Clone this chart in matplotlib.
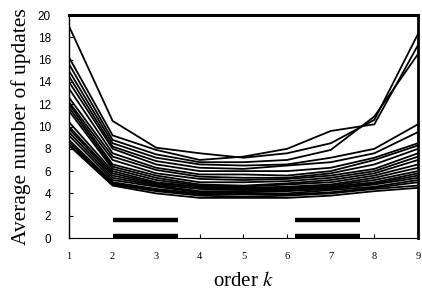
import numpy as np
from matplotlib import pyplot as plt

plt.rcParams['mathtext.fontset'] = 'stix'

# order k and average number of updates (one row per run)
orders = [1, 2, 3, 4, 5, 6, 7, 8, 9]
xtick_labels = ['1', '2', '3', '4', '5', '6', '7', '8', '9']
yticks = [0, 2, 4, 6, 8, 10, 12, 14, 16, 18, 20]

runs = [
    [19.0, 10.5, 8.1, 7.6, 7.2, 7.6, 8.5, 10.6, 18.3],
    [16.2, 9.2, 7.9, 7.0, 7.3, 8.0, 9.6, 10.2, 17.3],
    [15.6, 8.8, 7.5, 6.8, 6.8, 7.0, 7.9, 10.9, 16.5],
    [15.0, 8.5, 7.2, 6.6, 6.5, 6.6, 7.2, 8.0, 10.2],
    [14.5, 8.2, 6.9, 6.3, 6.2, 6.5, 6.8, 7.6, 9.5],
    [14.0, 8.0, 6.6, 6.0, 6.0, 6.0, 6.3, 7.2, 8.5],
    [13.4, 7.6, 6.3, 5.7, 5.7, 5.6, 6.0, 7.0, 8.3],
    [12.6, 7.3, 6.1, 5.5, 5.4, 5.4, 5.8, 6.6, 8.0],
    [12.2, 7.0, 5.8, 5.3, 5.2, 5.3, 5.6, 6.2, 7.6],
    [12.0, 6.6, 5.6, 5.0, 5.0, 5.1, 5.4, 6.0, 7.3],
    [11.7, 6.4, 5.4, 4.8, 4.7, 4.9, 5.2, 5.8, 7.0],
    [11.4, 6.2, 5.2, 4.7, 4.6, 4.8, 5.0, 5.6, 6.6],
    [10.4, 6.0, 5.0, 4.6, 4.5, 4.6, 4.8, 5.4, 6.3],
    [10.0, 5.8, 4.9, 4.5, 4.4, 4.5, 4.7, 5.2, 6.0],
    [9.8, 5.6, 4.8, 4.4, 4.3, 4.4, 4.6, 5.0, 5.8],
    [9.5, 5.4, 4.7, 4.2, 4.2, 4.3, 4.5, 4.9, 5.6],
    [9.2, 5.2, 4.6, 4.1, 4.1, 4.2, 4.4, 4.8, 5.4],
    [8.8, 5.0, 4.4, 4.0, 4.0, 4.0, 4.3, 4.6, 5.2],
    [8.6, 4.9, 4.3, 3.9, 3.9, 3.9, 4.1, 4.5, 5.0],
    [8.4, 4.8, 4.2, 3.8, 3.7, 3.8, 4.0, 4.4, 4.7],
    [8.3, 4.7, 4.0, 3.6, 3.6, 3.6, 3.8, 4.2, 4.5],
]

# the black bars near the bottom (start, end, level)
bar_starts = [2.0, 6.18]
bar_ends = [3.5, 7.68]
bar_levels = [1.6, 0.15]

fig = plt.figure(figsize=(4.22, 2.93), dpi=100)
ax = fig.add_axes([0.1635, 0.1877, 0.827, 0.761])

for r in runs:
    ax.plot(orders, r, color='black', linewidth=1.3, solid_joinstyle='miter')

for lev in bar_levels:
    for s, e in zip(bar_starts, bar_ends):
        ax.plot([s, e], [lev, lev], color='black', linewidth=3.2, solid_capstyle='butt')

ax.set_xlim(1, 9)
ax.set_ylim(0, 20)
ax.set_xticks(orders)
ax.set_xticklabels(xtick_labels, fontsize=7.5, family='Liberation Serif')
ax.set_yticks(yticks)
ax.set_yticklabels([str(v) for v in yticks], fontsize=8.5, family='Liberation Sans')
ax.tick_params(axis='x', direction='in', length=3, pad=10)
ax.tick_params(axis='y', direction='in', length=3, pad=13)

ax.spines['top'].set_linewidth(2.2)
ax.spines['right'].set_linewidth(2.0)
ax.spines['left'].set_linewidth(1.0)
ax.spines['bottom'].set_linewidth(0.8)

ax.set_xlabel('order $k$', fontsize=15, family='Liberation Serif', labelpad=8)
ax.set_ylabel('Average number of updates', fontsize=15.5, family='Liberation Serif', labelpad=5)

fig.savefig('out.png', dpi=100)
